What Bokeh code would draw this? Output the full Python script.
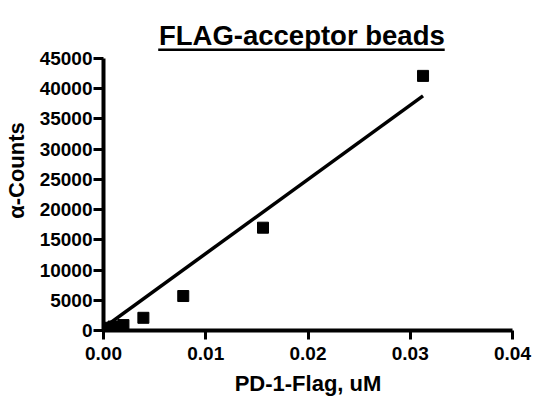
from bokeh.embed import file_html
from bokeh.models import FixedTicker, Label, PrintfTickFormatter, Range1d
from bokeh.plotting import figure
from bokeh.resources import INLINE

# PD-1-Flag dilution series (uM) and measured alpha counts
conc = [0.0, 0.000488, 0.000977, 0.00195, 0.0039, 0.0078, 0.0156, 0.03125]
counts = [300, 450, 650, 900, 2100, 5700, 17000, 42100]

# linear fit drawn across the data range
fit_x = [0.0, 0.03125]
fit_y = [450, 38800]

x_ticks = [0.0, 0.01, 0.02, 0.03, 0.04]
y_ticks = [0, 5000, 10000, 15000, 20000, 25000, 30000, 35000, 40000, 45000]

title_text = "FLAG-acceptor beads"
x_label = "PD-1-Flag, uM"
y_label = "α-Counts"

FONT = "Liberation Sans"

# the frame runs up over the title so the underline can be drawn inside it;
# the y axis itself stops at 45000
p = figure(width=536, height=398, output_backend="svg", toolbar_location=None,
           x_range=Range1d(0, 0.04), y_range=Range1d(0, 52912),
           min_border_left=101, min_border_right=24, min_border_top=10,
           min_border_bottom=67)

p.grid.visible = False
p.outline_line_color = None
p.background_fill_color = "white"
p.border_fill_color = "white"

p.line(fit_x, fit_y, line_color="black", line_width=3.5)
p.scatter(conc, counts, marker="square", size=11, fill_color="black",
          line_color="black")

# title with its underline
p.add_layout(Label(x=0.0194, y=48791, text=title_text, text_align="center",
                   text_baseline="middle", text_font=FONT,
                   text_font_size="27.5px", text_font_style="bold",
                   text_color="black"))
p.segment(x0=[0.00535], y0=[46430], x1=[0.03337], y1=[46430],
          line_color="black", line_width=2.5)

for ax in (p.xaxis[0], p.yaxis[0]):
    ax.axis_line_width = 4
    ax.axis_line_color = "black"
    ax.major_tick_line_width = 3
    ax.major_tick_line_color = "black"
    ax.major_tick_in = 0
    ax.minor_tick_out = 0
    ax.minor_tick_in = 0
    ax.major_label_text_font = FONT
    ax.major_label_text_font_style = "bold"
    ax.major_label_text_font_size = "19px"
    ax.major_label_text_color = "black"
    ax.axis_label_text_font = FONT
    ax.axis_label_text_font_style = "bold"
    ax.axis_label_text_font_size = "22px"
    ax.axis_label_text_color = "black"

p.xaxis.ticker = FixedTicker(ticks=x_ticks)
p.xaxis.formatter = PrintfTickFormatter(format="%.2f")
p.xaxis.axis_label = x_label
p.xaxis.major_tick_out = 9
p.xaxis.major_label_standoff = 7
p.xaxis.axis_label_standoff = 8

p.yaxis.ticker = FixedTicker(ticks=y_ticks)
p.yaxis.axis_label = y_label
p.yaxis.bounds = (0, 45000)
p.yaxis.major_tick_out = 10
p.yaxis.major_label_standoff = 1
p.yaxis.axis_label_standoff = 8

open("out.html", "w").write(file_html(p, INLINE))
